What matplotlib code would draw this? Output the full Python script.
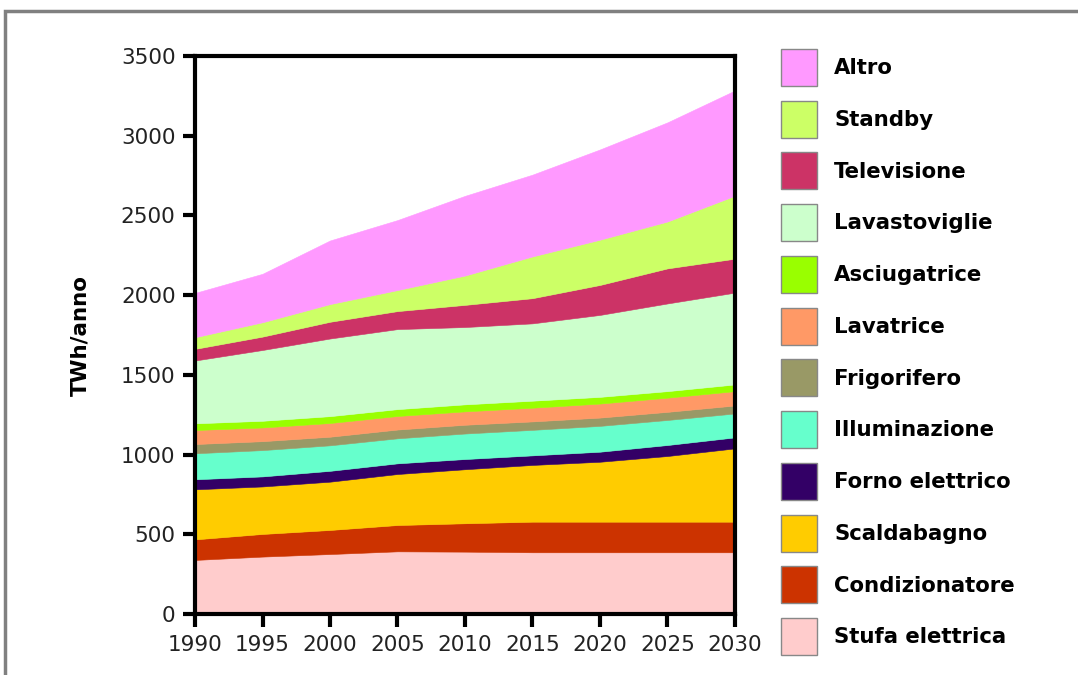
import matplotlib
matplotlib.use("Agg")
import matplotlib.pyplot as plt
from matplotlib.patches import Patch, Rectangle

years = [1990, 1995, 2000, 2005, 2010, 2015, 2020, 2025, 2030]

# TWh/anno per uso finale (dal basso verso l'alto)
stufa = [339, 360, 376, 393, 391, 387, 387, 387, 387]
condizionatore = [129, 142, 151, 165, 178, 192, 192, 192, 192]
scaldabagno = [314, 298, 303, 320, 339, 356, 376, 412, 460]
forno = [63, 63, 68, 67, 64, 60, 63, 69, 69]
illuminazione = [163, 165, 160, 157, 160, 160, 162, 157, 150]
frigorifero = [58, 56, 54, 55, 55, 53, 52, 51, 50]
lavatrice = [88, 86, 86, 85, 84, 86, 88, 89, 90]
asciugatrice = [42, 42, 43, 43, 44, 44, 42, 41, 42]
lavastoviglie = [394, 444, 487, 502, 485, 485, 514, 550, 576]
televisione = [73, 84, 105, 113, 139, 158, 188, 220, 213]
standby = [73, 90, 111, 132, 184, 262, 284, 294, 395]
altro = [278, 304, 399, 439, 500, 513, 566, 622, 660]

labels = ["Stufa elettrica", "Condizionatore", "Scaldabagno", "Forno elettrico",
          "Illuminazione", "Frigorifero", "Lavatrice", "Asciugatrice",
          "Lavastoviglie", "Televisione", "Standby", "Altro"]
colors = ["#FFCCCC", "#CC3300", "#FFCC00", "#330066", "#66FFCC", "#999966",
          "#FF9966", "#99FF00", "#CCFFCC", "#CC3366", "#CCFF66", "#FF99FF"]
series = [stufa, condizionatore, scaldabagno, forno, illuminazione, frigorifero,
          lavatrice, asciugatrice, lavastoviglie, televisione, standby, altro]

fig = plt.figure(figsize=(10.78, 6.75), dpi=100)
ax = fig.add_axes([0.1809, 0.0904, 0.5009, 0.8266])

ax.stackplot(years, *series, colors=colors, linewidth=0.4, edgecolor="face")

ax.set_xlim(1990, 2030)
ax.set_ylim(0, 3500)
ax.set_xticks(range(1990, 2031, 5))
ax.set_yticks(range(0, 3501, 500))
ax.tick_params(direction="out", length=9, width=3, labelsize=15.5,
               labelcolor="#222222")
ax.tick_params(axis="x", pad=6)
ax.tick_params(axis="y", pad=5)
for s in ax.spines.values():
    s.set_linewidth(3)
    s.set_color("black")
ax.set_ylabel("TWh/anno", fontsize=15.5, fontweight="bold", labelpad=22)

# legenda a destra, dall'alto verso il basso
handles = [Patch(facecolor=c, edgecolor="#888888", linewidth=1) for c in colors]
fig.legend(handles[::-1], labels[::-1], loc="upper left",
           bbox_to_anchor=(781 / 1078, 1 - 49 / 675), frameon=False,
           borderpad=0, borderaxespad=0, handlelength=1.7, handleheight=2.3,
           handletextpad=0.8, labelspacing=0.695,
           prop={"size": 15.3, "weight": "bold"})

# cornice grigia
fig.patches.append(Rectangle((5 / 1078, -0.05), 1.1, 1.05 - 11 / 675,
                             transform=fig.transFigure, fill=False,
                             edgecolor="#808080", linewidth=2.5))

fig.savefig("out.png", dpi=100)
